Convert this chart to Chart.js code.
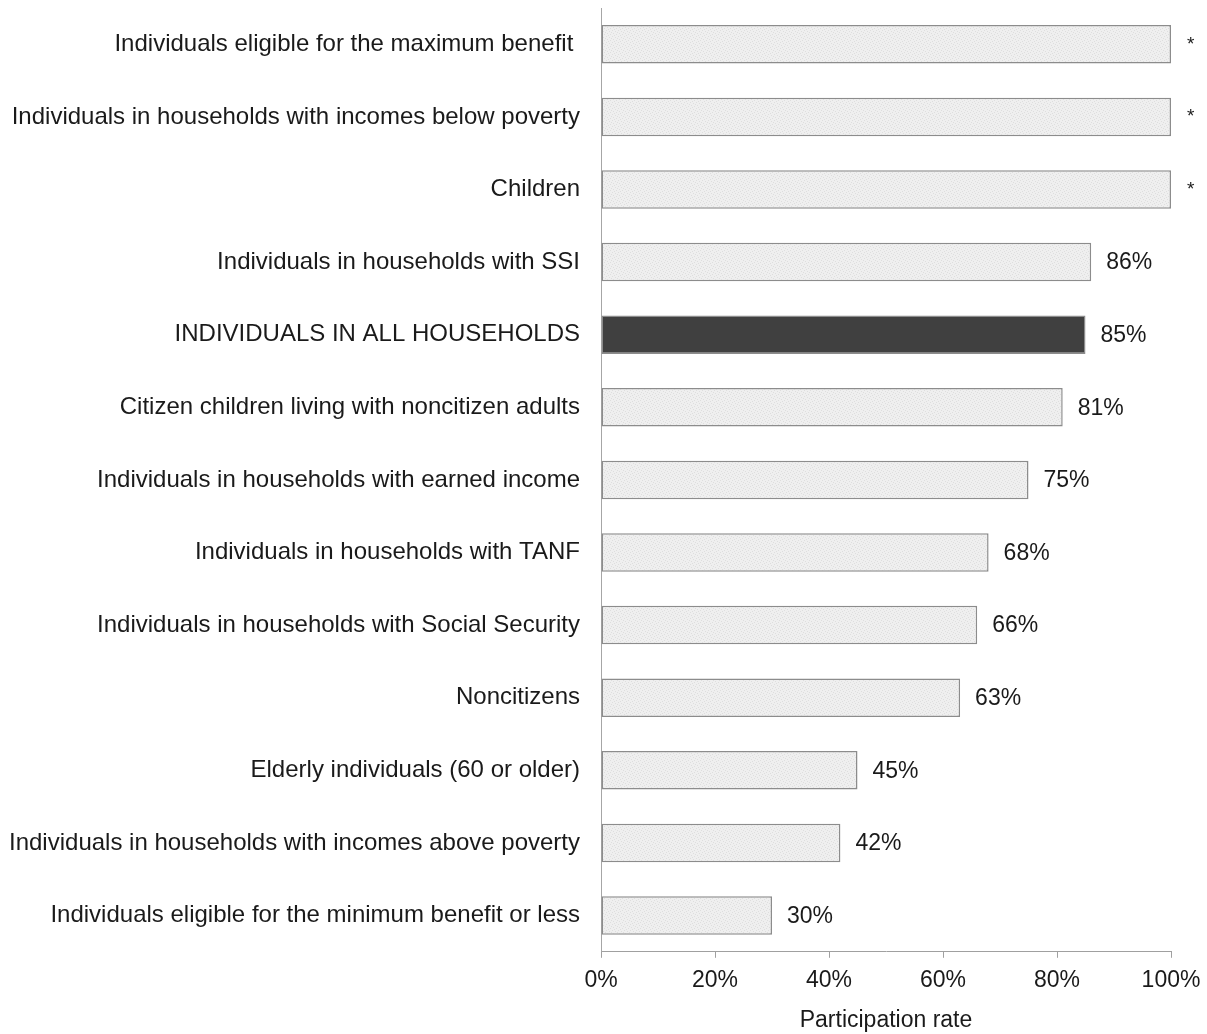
<!DOCTYPE html>
<html>
<head>
<meta charset="utf-8">
<script src="https://cdn.jsdelivr.net/npm/chart.js@4/dist/chart.umd.min.js"></script>
<style>
  html, body { margin: 0; padding: 0; background: #fff; }
  #wrap { width: 1207px; height: 1034px; position: relative; }
</style>
</head>
<body>
<div id="wrap"><canvas id="grafico"></canvas></div>
<script>
// Participation rates by group
const categorias = [
    "Individuals eligible for the maximum benefit ",
    "Individuals in households with incomes below poverty",
    "Children",
    "Individuals in households with SSI",
    "INDIVIDUALS IN ALL HOUSEHOLDS",
    "Citizen children living with noncitizen adults",
    "Individuals in households with earned income",
    "Individuals in households with TANF",
    "Individuals in households with Social Security",
    "Noncitizens",
    "Elderly individuals (60 or older)",
    "Individuals in households with incomes above poverty",
    "Individuals eligible for the minimum benefit or less",
];
const tasas    = [100, 100, 100, 86, 85, 81, 75, 68, 66, 63, 45, 42, 30];
const etiquetas = ["*", "*", "*", "86%", "85%", "81%", "75%", "68%", "66%", "63%", "45%", "42%", "30%"];
const ticksX   = [0, 20, 40, 60, 80, 100];
const FILA_TOTAL = 4;

const FUENTE = "'Liberation Sans', Arial, sans-serif";

// trama gris clara para las barras
function crearTrama() {
    const c = document.createElement("canvas");
    c.width = 6; c.height = 6;
    const g = c.getContext("2d");
    g.fillStyle = "#efefef";
    g.fillRect(0, 0, 6, 6);
    g.fillStyle = "#dedede";
    [[0, 0], [3, 1], [1, 3], [4, 4], [2, 5], [5, 2]].forEach(([x, y]) => g.fillRect(x, y, 1, 1));
    return g.createPattern(c, "repeat");
}
const trama = crearTrama();

const etiquetasBarras = {
    id: "etiquetasBarras",
    afterDatasetsDraw(chart) {
        const ctx = chart.ctx;
        const meta = chart.getDatasetMeta(0);
        ctx.save();
        ctx.fillStyle = "#1a1a1a";
        ctx.textBaseline = "middle";
        ctx.textAlign = "left";
        meta.data.forEach((bar, i) => {
            const txt = etiquetas[i];
            if (txt === "*") {
                ctx.font = `19px ${FUENTE}`;
                ctx.fillText(txt, bar.x + 16, bar.y);
            } else {
                ctx.font = `23px ${FUENTE}`;
                ctx.fillText(txt, bar.x + 15, bar.y + 1);
            }
        });
        ctx.restore();
    },
};

new Chart(document.getElementById("grafico"), {
    type: "bar",
    data: {
        labels: categorias,
        datasets: [{
            data: tasas,
            backgroundColor: tasas.map((_, i) => i === FILA_TOTAL ? "#404040" : trama),
            borderColor: "#8c8c8c",
            borderWidth: 1.5,
            borderSkipped: false,
            barPercentage: 0.53,
            categoryPercentage: 1,
        }],
    },
    options: {
        indexAxis: "y",
        responsive: true,
        maintainAspectRatio: false,
        animation: false,
        layout: { padding: { top: 8, right: 36, left: 0, bottom: 0 } },
        plugins: { legend: { display: false }, tooltip: { enabled: false } },
        scales: {
            x: {
                min: 0, max: 100,
                afterBuildTicks: (s) => { s.ticks = ticksX.map((v) => ({ value: v })); },
                afterFit: (s) => { s.paddingRight = 0; s.paddingLeft = 0; },
                grid: { drawOnChartArea: false, drawTicks: true, tickLength: 6, color: "#a0a0a0" },
                border: { display: true, color: "#a0a0a0", width: 1 },
                ticks: {
                    padding: 9,
                    color: "#1a1a1a",
                    font: { family: FUENTE, size: 23 },
                    callback: (v) => v + "%",
                    maxRotation: 0,
                },
                title: {
                    display: true,
                    text: "Participation rate",
                    color: "#1a1a1a",
                    font: { family: FUENTE, size: 23 },
                    padding: { top: 3, bottom: 0 },
                },
            },
            y: {
                afterFit: (s) => {
                    s.width = 601;
                    s.paddingTop = 0;
                    s.paddingBottom = 0;
                },
                grid: { display: false, drawTicks: false },
                border: { display: true, color: "#a6a6a6", width: 1 },
                ticks: {
                    padding: 21,
                    color: "#1a1a1a",
                    font: { family: FUENTE, size: 24 },
                    autoSkip: false,
                },
            },
        },
    },
    plugins: [etiquetasBarras],
});
</script>
</body>
</html>
